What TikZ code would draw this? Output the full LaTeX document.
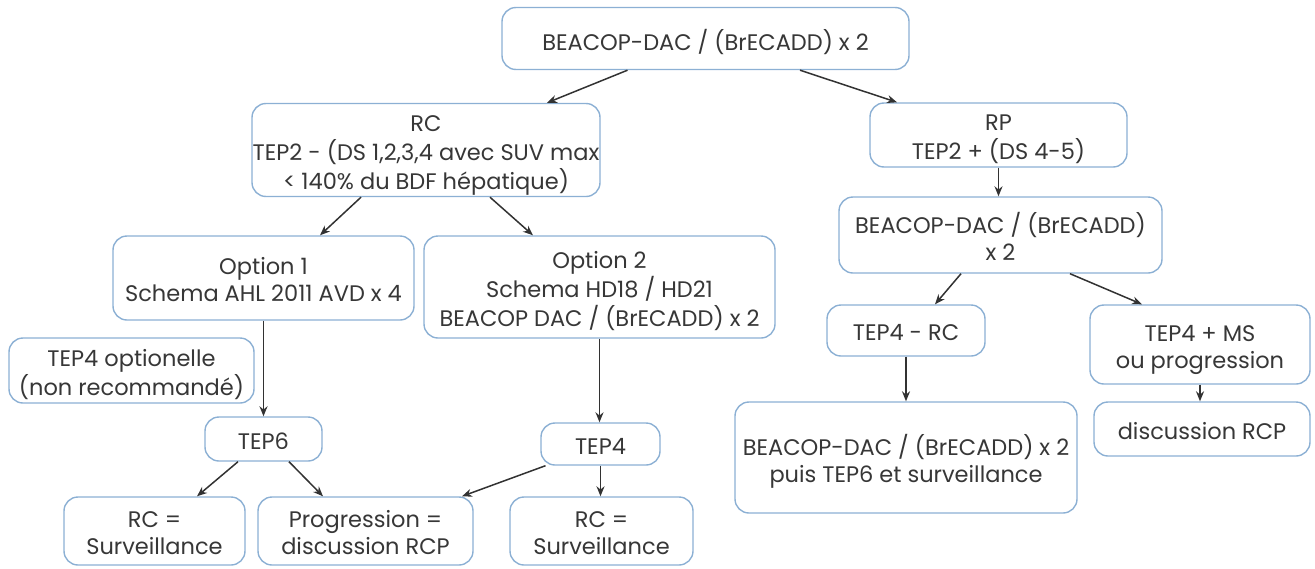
\documentclass[tikz,border=0pt]{standalone}
\usepackage{fontspec}
\setmainfont{Poppins}
\usetikzlibrary{arrows.meta}
\definecolor{boxblue}{RGB}{140,176,212}
\definecolor{txtgray}{RGB}{55,55,55}
\definecolor{arrgray}{RGB}{50,50,50}
\newcommand{\tx}[1]{\raisebox{-5pt}[\height][\depth]{\begin{tabular}{@{}c@{}}#1\end{tabular}}}
\tikzset{
  box/.style={draw=boxblue, line width=1.4pt, rounded corners=14pt, fill=white,
    text=txtgray, inner sep=0pt,
    font=\fontsize{22.5}{27}\selectfont},
  arr/.style={draw=arrgray, line width=1.5pt, -{Stealth[length=10pt,width=8pt]}}
}
\begin{document}
\begin{tikzpicture}[x=1pt,y=-1pt]
\useasboundingbox (0,0) rectangle (1315,568);
\node[box, minimum width=407, minimum height=62] (top) at (705.5,38.5) {\tx{BEACOP-DAC / (BrECADD) x 2}};
\node[box, minimum width=348, minimum height=93] (rc) at (426,150) {\tx{RC\\TEP2 - (DS 1,2,3,4 avec SUV max\\< 140\% du BDF hépatique)}};
\node[box, minimum width=257, minimum height=64] (rp) at (998.5,135) {\tx{RP\\TEP2 + (DS 4-5)}};
\node[box, minimum width=323, minimum height=76] (bea2) at (1000.5,235) {\tx{BEACOP-DAC / (BrECADD)\\x 2}};
\node[box, minimum width=301, minimum height=84] (opt1) at (263.5,278) {\tx{Option 1\\Schema AHL 2011 AVD x 4}};
\node[box, minimum width=351, minimum height=102] (opt2) at (599.5,287) {\tx{Option 2\\Schema HD18 / HD21\\BEACOP DAC / (BrECADD) x 2}};
\node[box, minimum width=245, minimum height=65] (tepopt) at (131.5,370.5) {\tx{TEP4 optionelle\\(non recommandé)}};
\node[box, minimum width=117, minimum height=44] (tep6) at (263.5,439) {\tx{TEP6}};
\node[box, minimum width=119, minimum height=42] (tep4m) at (600.5,444) {\tx{TEP4}};
\node[box, minimum width=181, minimum height=68] (rcl) at (154.5,531) {\tx{RC =\\Surveillance}};
\node[box, minimum width=215, minimum height=68] (prog) at (365.5,531) {\tx{Progression =\\discussion RCP}};
\node[box, minimum width=183, minimum height=68] (rcr) at (601.5,531) {\tx{RC =\\Surveillance}};
\node[box, minimum width=158, minimum height=51] (tep4rc) at (906,330.5) {\tx{TEP4 - RC}};
\node[box, minimum width=220, minimum height=79] (tep4ms) at (1200,344.5) {\tx{TEP4 + MS\\ou progression}};
\node[box, minimum width=342, minimum height=111] (beapuis) at (906,457.5) {\tx{BEACOP-DAC / (BrECADD) x 2\\puis TEP6 et surveillance}};
\node[box, minimum width=216, minimum height=54] (disc) at (1202,429) {\tx{discussion RCP}};

\draw[arr] ([xshift=-78]top.south) -- ([xshift=121]rc.north);
\draw[arr] ([xshift=94.5]top.south) -- ([xshift=-101.5]rp.north);
\draw[arr] ([xshift=-65]rc.south) -- ([xshift=56.5]opt1.north);
\draw[arr] ([xshift=64]rc.south) -- ([xshift=-66.5]opt2.north);
\draw[arr] (rp.south) -- (rp.south |- bea2.north);
\draw[arr] ([xshift=-39.5]bea2.south) -- ([xshift=29]tep4rc.north);
\draw[arr] ([xshift=69.5]bea2.south) -- ([xshift=-58]tep4ms.north);
\draw[arr] (opt1.south) -- (tep6.north);
\draw[arr] (opt2.south) -- (opt2.south |- tep4m.north);
\draw[arr] ([xshift=-25.5]tep6.south) -- ([xshift=42.5]rcl.north);
\draw[arr] ([xshift=25.5]tep6.south) -- ([xshift=-42.5]prog.north);
\draw[arr] ([xshift=-55]tep4m.south) -- ([xshift=96.5]prog.north);
\draw[arr] (tep4m.south) -- (tep4m.south |- rcr.north);
\draw[arr] (tep4rc.south) -- (beapuis.north);
\draw[arr] (tep4ms.south) -- (tep4ms.south |- disc.north);
\end{tikzpicture}
\end{document}
